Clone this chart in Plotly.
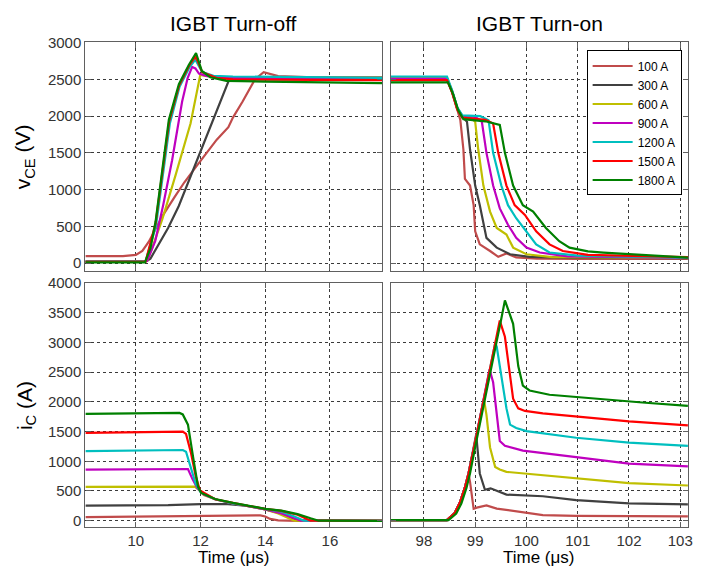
import plotly.graph_objects as go

# ---------------------------------------------------------------------------
# Measured switching waveforms of an IGBT at seven load currents
# ---------------------------------------------------------------------------
SERIES = ["100 A", "300 A", "600 A", "900 A", "1200 A", "1500 A", "1800 A"]
COLORS = ["#C04B4B", "#404040", "#BFBF00", "#BF00BF", "#00BFBF", "#FF0000", "#008000"]

# --- Turn-off: collector-emitter voltage (V) vs time (us) ---
OFF_V_T = {
    "100 A": [8.44, 9.6, 10.0, 10.2, 10.4, 10.65, 10.82, 11.2, 11.5, 11.84, 12.1, 12.5, 12.86, 13.0, 13.3, 13.68, 13.95, 14.1, 14.4, 15.5, 17.62],
    "300 A": [8.44, 10.3, 10.45, 10.7, 11.0, 11.33, 11.5, 11.84, 12.1, 12.35, 12.6, 12.86, 12.95, 13.2, 14.0, 17.62],
    "600 A": [8.44, 10.35, 10.5, 10.82, 11.23, 11.48, 11.69, 11.99, 12.1, 13.0, 17.62],
    "900 A": [8.44, 10.35, 10.6, 10.85, 11.12, 11.3, 11.43, 11.6, 11.74, 11.84, 11.95, 12.2, 13.0, 17.62],
    "1200 A": [8.44, 10.3, 10.62, 10.85, 11.05, 11.35, 11.65, 11.84, 11.92, 12.05, 12.4, 13.0, 17.62],
    "1500 A": [8.44, 10.3, 10.61, 10.83, 11.03, 11.34, 11.65, 11.84, 11.92, 12.05, 12.5, 13.0, 17.62],
    "1800 A": [8.44, 10.28, 10.45, 10.61, 10.82, 11.02, 11.33, 11.64, 11.86, 11.95, 12.04, 12.3, 12.8, 14.0, 17.62],
}
OFF_V = {
    "100 A": [95, 95, 110, 165, 290, 500, 640, 900, 1100, 1300, 1450, 1680, 1850, 1980, 2200, 2500, 2600, 2580, 2545, 2530, 2530],
    "300 A": [20, 20, 60, 250, 480, 780, 970, 1330, 1620, 1900, 2200, 2470, 2520, 2510, 2520, 2520],
    "600 A": [20, 30, 200, 600, 1200, 1570, 1900, 2560, 2550, 2520, 2520],
    "900 A": [15, 30, 300, 800, 1400, 1900, 2200, 2520, 2670, 2650, 2580, 2545, 2520, 2510],
    "1200 A": [25, 25, 500, 1250, 1900, 2400, 2660, 2770, 2700, 2600, 2550, 2540, 2520],
    "1500 A": [20, 20, 540, 1260, 1930, 2420, 2690, 2810, 2740, 2600, 2520, 2500, 2490],
    "1800 A": [10, 10, 200, 565, 1280, 1950, 2435, 2700, 2860, 2750, 2615, 2530, 2480, 2470, 2450],
}

# --- Turn-on: collector-emitter voltage (V) vs time (us) ---
ON_V_T = {
    "100 A": [97.35, 98.45, 98.55, 98.65, 98.71, 98.77, 98.8, 98.9, 98.97, 99.0, 99.09, 99.29, 99.45, 99.61, 99.8, 100.2, 101.0, 103.15],
    "300 A": [97.35, 98.45, 98.55, 98.65, 98.75, 98.84, 98.9, 99.0, 99.09, 99.22, 99.42, 99.68, 100.06, 101.0, 103.15],
    "600 A": [97.35, 98.45, 98.55, 98.65, 98.75, 98.9, 99.0, 99.06, 99.16, 99.29, 99.42, 99.61, 99.74, 100.0, 100.5, 103.15],
    "900 A": [97.35, 98.45, 98.55, 98.65, 98.75, 99.0, 99.13, 99.22, 99.35, 99.48, 99.64, 99.8, 100.0, 100.26, 100.8, 103.15],
    "1200 A": [97.35, 98.45, 98.55, 98.65, 98.75, 99.1, 99.26, 99.35, 99.51, 99.64, 99.8, 100.0, 100.19, 100.45, 101.0, 103.15],
    "1500 A": [97.35, 98.45, 98.55, 98.65, 98.75, 99.2, 99.35, 99.45, 99.61, 99.77, 99.97, 100.19, 100.45, 100.71, 101.2, 103.15],
    "1800 A": [97.35, 98.47, 98.57, 98.67, 98.77, 99.2, 99.48, 99.58, 99.74, 99.93, 100.13, 100.38, 100.64, 100.84, 101.2, 101.5, 102.5, 103.15],
}
ON_V = {
    "100 A": [2500, 2500, 2330, 2100, 1950, 1546, 1145, 1055, 788, 431, 254, 164, 85, 130, 76, 60, 55, 55],
    "300 A": [2510, 2510, 2330, 2100, 1990, 1924, 1546, 1055, 788, 343, 210, 120, 85, 70, 65],
    "600 A": [2520, 2520, 2340, 2110, 2000, 1980, 1924, 1546, 1055, 700, 477, 387, 210, 120, 80, 70],
    "900 A": [2510, 2510, 2340, 2110, 2000, 1990, 1924, 1500, 1055, 744, 521, 343, 210, 143, 90, 70],
    "1200 A": [2540, 2540, 2350, 2120, 2010, 2000, 1946, 1500, 1055, 788, 610, 431, 254, 143, 100, 75],
    "1500 A": [2490, 2490, 2320, 2090, 1980, 1950, 1900, 1500, 1055, 788, 655, 431, 254, 164, 110, 80],
    "1800 A": [2460, 2460, 2300, 2080, 1960, 1930, 1880, 1500, 1055, 788, 700, 477, 298, 210, 160, 143, 100, 75],
}

# --- Turn-off: collector current (A) vs time (us) ---
OFF_I_T = {
    "100 A": [8.44, 11.0, 12.0, 13.0, 13.85, 14.0, 14.15, 14.4, 15.0, 17.62],
    "300 A": [8.44, 11.0, 12.0, 12.6, 12.85, 13.47, 14.0, 14.5, 14.8, 15.0, 17.62],
    "600 A": [8.44, 11.7, 11.82, 11.95, 12.1, 12.45, 13.0, 13.47, 14.0, 14.4, 14.7, 14.9, 17.62],
    "900 A": [8.44, 11.4, 11.61, 11.75, 11.9, 12.1, 12.45, 13.0, 13.47, 14.0, 14.5, 14.9, 15.1, 17.62],
    "1200 A": [8.44, 11.45, 11.55, 11.7, 11.85, 12.0, 12.45, 13.0, 13.47, 14.0, 14.5, 14.9, 15.2, 17.62],
    "1500 A": [8.44, 11.45, 11.55, 11.7, 11.85, 11.98, 12.45, 13.0, 13.47, 14.0, 14.5, 15.0, 15.4, 17.62],
    "1800 A": [8.44, 11.35, 11.45, 11.61, 11.77, 11.92, 12.02, 12.45, 13.0, 13.47, 14.0, 14.5, 15.0, 15.4, 15.65, 17.62],
}
OFF_I = {
    "100 A": [60, 70, 75, 85, 90, 70, 30, 5, -5, -5],
    "300 A": [255, 262, 280, 285, 280, 247, 190, 120, 50, 5, -5],
    "600 A": [570, 585, 575, 520, 430, 360, 290, 245, 190, 120, 40, 0, -5],
    "900 A": [860, 880, 870, 700, 550, 440, 360, 290, 245, 190, 120, 40, 0, -5],
    "1200 A": [1170, 1190, 1160, 900, 620, 480, 360, 290, 245, 195, 150, 70, 0, -5],
    "1500 A": [1480, 1500, 1460, 1150, 750, 510, 360, 295, 250, 200, 165, 100, 0, -5],
    "1800 A": [1800, 1815, 1790, 1617, 1069, 575, 467, 365, 300, 255, 200, 170, 110, 40, 0, -5],
}

# --- Turn-on: collector current (A) vs time (us) ---
ON_I_T = {
    "100 A": [97.35, 98.45, 98.6, 98.7, 98.8, 98.87, 98.9, 98.97, 99.03, 99.22, 99.42, 99.93, 100.32, 100.97, 103.15],
    "300 A": [97.35, 98.45, 98.6, 98.7, 98.8, 98.87, 99.02, 99.09, 99.19, 99.3, 99.61, 100.32, 100.97, 102.0, 103.15],
    "600 A": [97.35, 98.45, 98.6, 98.7, 98.8, 98.87, 99.0, 99.1, 99.17, 99.22, 99.29, 99.39, 99.48, 99.61, 100.32, 100.97, 102.0, 103.15],
    "900 A": [97.35, 98.45, 98.6, 98.7, 98.8, 98.87, 99.0, 99.1, 99.2, 99.28, 99.35, 99.42, 99.48, 99.58, 99.93, 100.97, 102.0, 103.15],
    "1200 A": [97.35, 98.45, 98.6, 98.7, 98.8, 98.87, 99.0, 99.1, 99.2, 99.3, 99.39, 99.42, 99.51, 99.61, 99.68, 99.8, 100.0, 100.97, 102.0, 103.15],
    "1500 A": [97.35, 98.45, 98.6, 98.7, 98.8, 98.87, 99.0, 99.1, 99.2, 99.3, 99.4, 99.48, 99.58, 99.68, 99.74, 99.84, 99.97, 100.32, 100.97, 102.0, 103.15],
    "1800 A": [97.35, 98.48, 98.63, 98.73, 98.83, 98.9, 99.0, 99.1, 99.2, 99.3, 99.4, 99.5, 99.58, 99.74, 99.84, 99.93, 100.06, 100.45, 100.97, 101.61, 102.26, 103.15],
}
ON_I = {
    "100 A": [10, 10, 130, 300, 560, 790, 650, 200, 220, 258, 204, 138, 94, 82, 72],
    "300 A": [10, 10, 130, 300, 560, 795, 1450, 795, 521, 545, 439, 411, 345, 291, 274],
    "600 A": [10, 10, 130, 300, 560, 795, 1330, 1750, 2050, 1782, 1233, 904, 861, 822, 768, 713, 631, 592],
    "900 A": [10, 10, 130, 300, 560, 795, 1330, 1750, 2170, 2548, 2330, 1782, 1343, 1261, 1179, 1069, 960, 916],
    "1200 A": [10, 10, 130, 300, 560, 795, 1330, 1750, 2170, 2590, 2987, 2933, 2440, 1891, 1618, 1562, 1508, 1397, 1315, 1261],
    "1500 A": [10, 10, 130, 300, 560, 795, 1330, 1750, 2170, 2590, 3010, 3370, 3097, 2440, 2055, 1891, 1848, 1808, 1754, 1672, 1606],
    "1800 A": [10, 10, 120, 290, 550, 800, 1240, 1680, 2100, 2520, 2940, 3360, 3710, 3316, 2604, 2275, 2193, 2121, 2083, 2029, 1990, 1935],
}

# ---------------------------------------------------------------------------
W, H = 727, 576


def px_x(a, b):
    return [a / W, b / W]


def px_y(top, bottom):
    return [1 - bottom / H, 1 - top / H]


fig = go.Figure()

panels = [
    (OFF_V_T, OFF_V, "x", "y"),
    (ON_V_T, ON_V, "x2", "y2"),
    (OFF_I_T, OFF_I, "x3", "y3"),
    (ON_I_T, ON_I, "x4", "y4"),
]

for pi, (tdict, vdict, xa, ya) in enumerate(panels):
    for name, col in zip(SERIES, COLORS):
        fig.add_trace(go.Scatter(
            x=tdict[name], y=vdict[name], mode="lines", name=name,
            line=dict(color=col, width=2.2),
            xaxis=xa, yaxis=ya, showlegend=(pi == 1),
        ))

tick_font = dict(family="Arial, Liberation Sans, sans-serif", size=15, color="#333333")
common_axis = dict(
    showline=True, linecolor="#606060", linewidth=1.3, mirror="ticks",
    ticks="inside", ticklen=5, tickcolor="#606060",
    showgrid=True, gridcolor="#3a3a3a", gridwidth=1, griddash="dot",
    zeroline=False, tickfont=tick_font,
)

left_dom = px_x(86, 385)
right_dom = px_x(393.3, 692.7)
top_dom = px_y(34, 266.7)
bot_dom = px_y(279.5, 528.3)

fig.update_layout(
    width=W, height=H,
    margin=dict(l=0, r=0, t=0, b=0),
    paper_bgcolor="white", plot_bgcolor="white",
    font=dict(family="Arial, Liberation Sans, sans-serif", color="black"),
    xaxis=dict(domain=left_dom, range=[8.44, 17.62], tickvals=[10, 12, 14, 16],
               showticklabels=False, anchor="y", **common_axis),
    yaxis=dict(domain=top_dom, range=[-103, 3005], dtick=500, anchor="x", **common_axis),
    xaxis2=dict(domain=right_dom, range=[97.35, 103.15], dtick=1,
                showticklabels=False, anchor="y2", **common_axis),
    yaxis2=dict(domain=top_dom, range=[-103, 3005], dtick=500,
                showticklabels=False, anchor="x2", **common_axis),
    xaxis3=dict(domain=left_dom, range=[8.44, 17.62], tickvals=[10, 12, 14, 16],
                anchor="y3", **common_axis),
    yaxis3=dict(domain=bot_dom, range=[-110, 4000], dtick=500, anchor="x3", **common_axis),
    xaxis4=dict(domain=right_dom, range=[97.35, 103.15], dtick=1, anchor="y4", **common_axis),
    yaxis4=dict(domain=bot_dom, range=[-110, 4000], dtick=500,
                showticklabels=False, anchor="x4", **common_axis),
    legend=dict(
        x=590.7 / W, y=1 - 42.3 / H, xanchor="left", yanchor="top",
        bordercolor="black", borderwidth=1, bgcolor="white",
        font=dict(family="Arial, Liberation Sans, sans-serif", size=12, color="black"),
        tracegroupgap=0, itemwidth=40,
    ),
)

label_font = dict(family="Arial, Liberation Sans, sans-serif", size=21, color="black")
annotations = [
    dict(text="IGBT Turn-off", x=235.5 / W, y=1 - 15 / H, font=label_font),
    dict(text="IGBT Turn-on", x=543 / W, y=1 - 15 / H, font=label_font),
    dict(text="v<sub>CE</sub> (V)", x=25 / W, y=1 - 150.3 / H, textangle=-90, font=label_font),
    dict(text="i<sub>C</sub> (A)", x=26 / W, y=1 - 404 / H, textangle=-90, font=label_font),
    dict(text="Time (\u03bcs)", x=235.5 / W, y=1 - 559 / H,
         font=dict(family="Arial, Liberation Sans, sans-serif", size=17, color="black")),
    dict(text="Time (\u03bcs)", x=543 / W, y=1 - 559 / H,
         font=dict(family="Arial, Liberation Sans, sans-serif", size=17, color="black")),
]
for a in annotations:
    a.update(xref="paper", yref="paper", xanchor="center", yanchor="middle", showarrow=False)
fig.update_layout(annotations=annotations)

fig.write_html("out.html")
